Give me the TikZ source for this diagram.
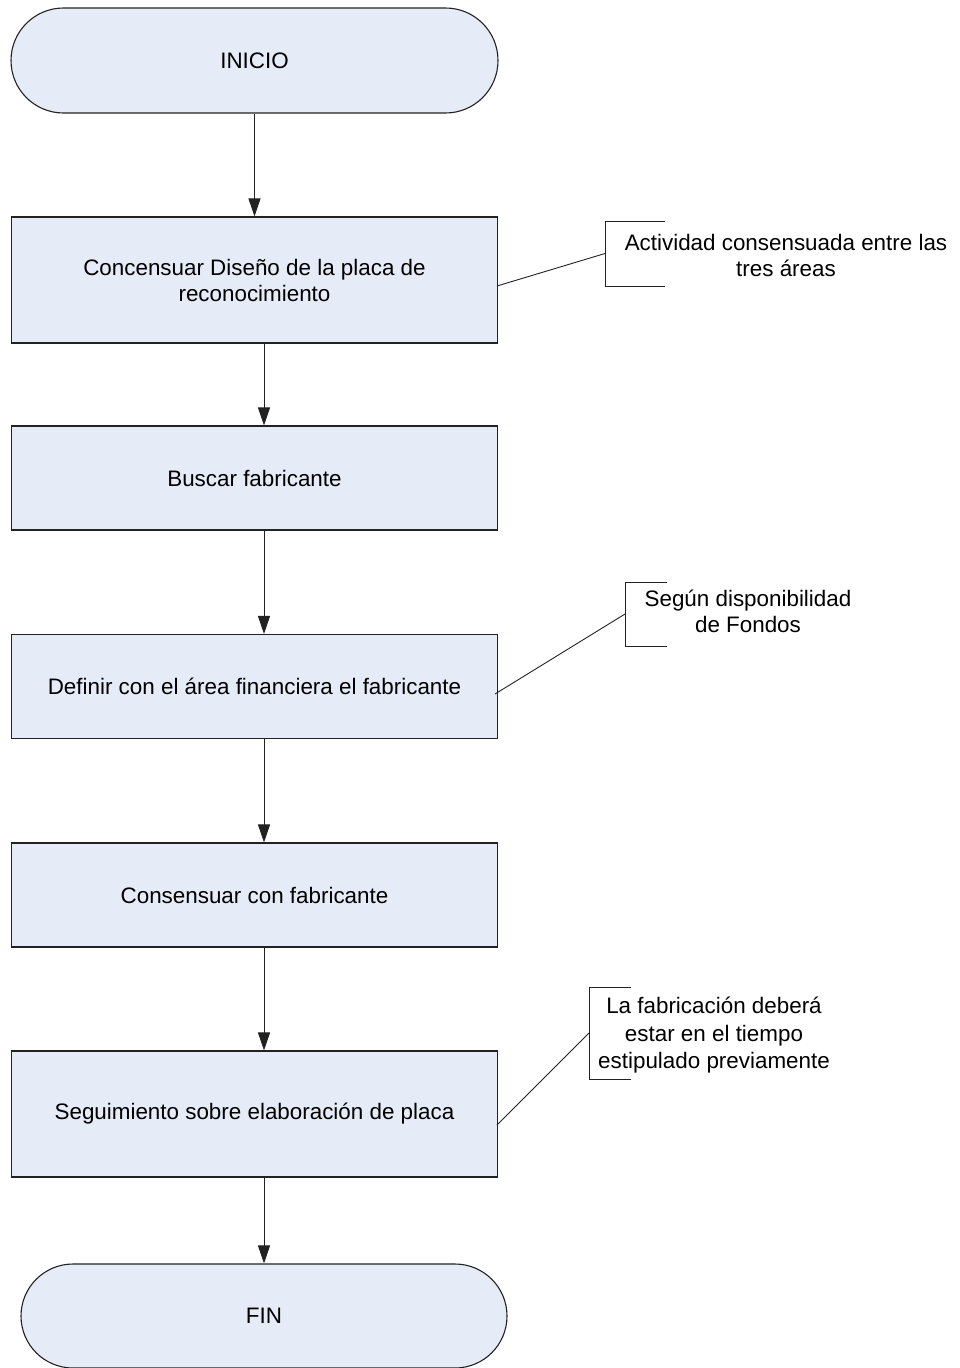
\documentclass[tikz,border=0pt]{standalone}
\usepackage{fontspec}
\setmainfont{Liberation Sans}
\usetikzlibrary{shapes.misc,arrows.meta}
\definecolor{boxfill}{HTML}{E5ECF7}
\definecolor{edge}{HTML}{222222}
\begin{document}
\begin{tikzpicture}[x=1pt,y=-1pt,
  txt/.style={font=\fontsize{22.4}{26}\selectfont,align=center,text=black},
  terminal/.style={txt,shape=rounded rectangle,draw=edge,line width=1.1pt,fill=boxfill,
    minimum width=487pt,minimum height=105pt,inner sep=0pt},
  stepbox/.style={txt,rectangle,draw=edge,line width=1.1pt,fill=boxfill,
    minimum width=486pt,inner sep=0pt},
  flow/.style={draw=edge,line width=1pt,-{Triangle[length=18pt,width=12pt]}},
  bracket/.style={draw=edge,line width=0.9pt},
  leader/.style={draw=edge,line width=0.9pt},
  note/.style={txt}]
  \useasboundingbox (0,0) rectangle (960,1368);

  % main flow
  \node[terminal] (inicio) at (254.5,60.5) {INICIO};
  \node[stepbox,minimum height=126pt] (b1) at (254.5,280) {Concensuar Diseño de la placa de\\reconocimiento};
  \node[stepbox,minimum height=104pt] (b2) at (254.5,478) {Buscar fabricante};
  \node[stepbox,minimum height=104pt] (b3) at (254.5,686.5) {Definir con el área financiera el fabricante};
  \node[stepbox,minimum height=104pt] (b4) at (254.5,895) {Consensuar con fabricante};
  \node[stepbox,minimum height=126pt] (b5) at (254.5,1114) {Seguimiento sobre elaboración de placa};
  \node[terminal,minimum width=486pt,minimum height=104pt] (fin) at (264,1316) {FIN};

  \draw[flow] (inicio.south) -- (b1.north);
  \draw[flow] ([xshift=9.5pt]b1.south) -- ([xshift=9.5pt]b2.north);
  \draw[flow] ([xshift=9.5pt]b2.south) -- ([xshift=9.5pt]b3.north);
  \draw[flow] ([xshift=9.5pt]b3.south) -- ([xshift=9.5pt]b4.north);
  \draw[flow] ([xshift=9.5pt]b4.south) -- ([xshift=9.5pt]b5.north);
  \draw[flow] ([xshift=9.5pt]b5.south) -- (fin.north);

  % annotation 1
  \coordinate (n1top) at (665,221);
  \coordinate (n1bot) at (665,286);
  \coordinate (n1mid) at (605,253.5);
  \coordinate (n1from) at (497,286);
  \draw[bracket] (n1top) -- (605,221) -- (605,286) -- (n1bot);
  \draw[leader] (n1from) -- (n1mid);
  \node[note] (t1) at (786,255) {Actividad consensuada entre las\\tres áreas};

  % annotation 2
  \coordinate (n2top) at (667,582);
  \coordinate (n2bot) at (667,646);
  \coordinate (n2mid) at (625,614);
  \coordinate (n2from) at (495,694);
  \draw[bracket] (n2top) -- (625,582) -- (625,646) -- (n2bot);
  \draw[leader] (n2from) -- (n2mid);
  \node[note] (t2) at (748,611) {Según disponibilidad\\de Fondos};

  % annotation 3
  \coordinate (n3top) at (631,987);
  \coordinate (n3bot) at (631,1079);
  \coordinate (n3mid) at (589,1033);
  \coordinate (n3from) at (497,1125);
  \draw[bracket] (n3top) -- (589,987) -- (589,1079) -- (n3bot);
  \draw[leader] (n3from) -- (n3mid);
  \node[note,font=\fontsize{22.4}{27.5}\selectfont] (t3) at (714,1035.5) {La fabricación deberá\\estar en el tiempo\\estipulado previamente};
\end{tikzpicture}
\end{document}
